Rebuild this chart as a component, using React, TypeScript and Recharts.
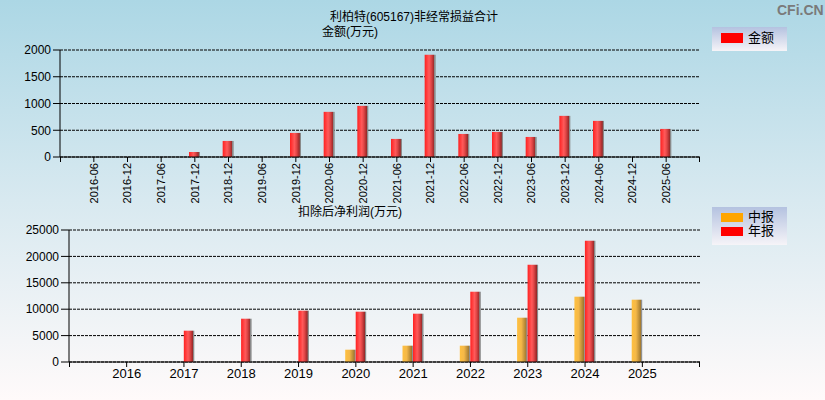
import React from "react";
import { Bar, BarChart, CartesianGrid, XAxis, YAxis } from "recharts";

const periods = [
  "2016-06", "2016-12", "2017-06", "2017-12", "2018-12", "2019-06",
  "2019-12", "2020-06", "2020-12", "2021-06", "2021-12", "2022-06",
  "2022-12", "2023-06", "2023-12", "2024-06", "2024-12", "2025-06",
];
const amounts = [null, null, null, 94, 300, null, 450, 844, 956, 338, 1912, 431, 469, 375, 769, 675, null, 525];
const amountTicks = [0, 500, 1000, 1500, 2000];

const years = ["2016", "2017", "2018", "2019", "2020", "2021", "2022", "2023", "2024", "2025"];
const interim = [null, null, null, null, 2330, 3090, 3090, 8390, 12370, 11800];
const annual = [null, 5930, 8200, 9720, 9530, 9150, 13310, 18430, 22970, null];
const profitTicks = [0, 5000, 10000, 15000, 20000, 25000];

const topData = periods.map((p, i) => ({ period: p, amount: amounts[i] }));
const bottomData = years.map((y, i) => ({ year: y, interim: interim[i], annual: annual[i] }));

const FONT = '"Liberation Sans", Arial, "Noto Sans CJK SC", sans-serif';

const RotTick = (props: any) => {
  const { x, y, payload } = props;
  return (
    <text
      x={x}
      y={y}
      transform={`rotate(-90 ${x} ${y})`}
      textAnchor="end"
      dy="0.35em"
      fontSize={11}
      fontFamily={FONT}
      fill="#000"
    >
      {payload.value}
    </text>
  );
};

const Grads = () => (
  <defs>
    <linearGradient id="redBar" x1="0" y1="0" x2="1" y2="0">
      <stop offset="0" stopColor="#ff2020" />
      <stop offset="0.4" stopColor="#ff5a5a" />
      <stop offset="0.6" stopColor="#e04545" />
      <stop offset="0.86" stopColor="#982828" />
      <stop offset="0.88" stopColor="#8a8a8a" />
      <stop offset="1" stopColor="#8a8a8a" />
    </linearGradient>
    <linearGradient id="orangeBar" x1="0" y1="0" x2="1" y2="0">
      <stop offset="0" stopColor="#ffc040" />
      <stop offset="0.4" stopColor="#f4b848" />
      <stop offset="0.88" stopColor="#a07830" />
      <stop offset="0.9" stopColor="#909090" />
      <stop offset="1" stopColor="#909090" />
    </linearGradient>
  </defs>
);

const txt: React.CSSProperties = {
  position: "absolute",
  fontFamily: FONT,
  fontSize: 12,
  color: "#000",
  whiteSpace: "nowrap",
  lineHeight: "14px",
};

const legendBox: React.CSSProperties = {
  position: "absolute",
  left: 712,
  width: 75,
  background: "linear-gradient(to bottom, #b4c2e0, #f6f4f8)",
};

const tickDiv = (left: number, top: number): React.CSSProperties => ({
  position: "absolute",
  left,
  top,
  width: 1,
  height: 5,
  background: "#000",
});

export default function App() {
  return (
    <div
      style={{
        position: "absolute",
        left: 0,
        top: 0,
        width: 825,
        height: 400,
        overflow: "hidden",
        background: "linear-gradient(to bottom, #acd7e5 0%, #d8e9f0 50%, #fffafa 100%)",
      }}
    >
      <div style={{ ...txt, left: 330, top: 10 }}>利柏特(605167)非经常损益合计</div>
      <div style={{ ...txt, left: 322, top: 25 }}>金额(万元)</div>
      <div
        style={{
          position: "absolute",
          left: 777,
          top: 2,
          fontFamily: '"Liberation Sans", Arial, sans-serif',
          fontWeight: "bold",
          fontSize: 14,
          lineHeight: "16px",
          color: "#7a7a7a",
          whiteSpace: "nowrap",
        }}
      >
        CFi.CN
      </div>

      <div style={{ position: "absolute", left: 0, top: 0 }}>
        <BarChart width={825} height={205} data={topData} margin={{ top: 50, right: 125, bottom: 3, left: 0 }}>
          <Grads />
          <CartesianGrid vertical={false} stroke="#000" strokeDasharray="3 1" />
          <XAxis
            dataKey="period"
            interval={0}
            padding={{ left: 17, right: 17 }}
            height={45}
            tickSize={5}
            tickMargin={1}
            axisLine={{ stroke: "#000" }}
            tickLine={{ stroke: "#000" }}
            tick={<RotTick />}
          />
          <YAxis
            width={60}
            domain={[0, 2000]}
            ticks={amountTicks}
            interval={0}
            tickSize={7}
            tickMargin={2}
            axisLine={{ stroke: "#000" }}
            tickLine={{ stroke: "#000" }}
            tick={{ fill: "#000", fontSize: 12, fontFamily: FONT }}
          />
          <Bar dataKey="amount" fill="url(#redBar)" barSize={11} isAnimationActive={false} />
        </BarChart>
      </div>
      <div style={tickDiv(60, 157)} />
      <div style={tickDiv(699, 157)} />

      <div style={{ ...legendBox, top: 27, height: 24 }}>
        <div style={{ position: "absolute", left: 9, top: 6, width: 22, height: 10, background: "#ff0000" }} />
        <div style={{ ...txt, left: 36, top: 4, fontSize: 13 }}>金额</div>
      </div>

      <div style={{ ...txt, left: 298, top: 205 }}>扣除后净利润(万元)</div>

      <div style={{ position: "absolute", left: 0, top: 200 }}>
        <BarChart
          width={825}
          height={200}
          data={bottomData}
          margin={{ top: 30, right: 125, bottom: 8, left: 0 }}
          barGap={0}
        >
          <Grads />
          <CartesianGrid vertical={false} stroke="#000" strokeDasharray="3 1" />
          <XAxis
            dataKey="year"
            interval={0}
            padding={{ left: 29, right: 29 }}
            height={30}
            tickSize={5}
            tickMargin={2}
            axisLine={{ stroke: "#000" }}
            tickLine={{ stroke: "#000" }}
            tick={{ fill: "#000", fontSize: 13, fontFamily: FONT }}
          />
          <YAxis
            width={69}
            domain={[0, 25000]}
            ticks={profitTicks}
            interval={0}
            tickSize={8}
            tickMargin={2}
            axisLine={{ stroke: "#000" }}
            tickLine={{ stroke: "#000" }}
            tick={{ fill: "#000", fontSize: 12, fontFamily: FONT }}
          />
          <Bar dataKey="interim" fill="url(#orangeBar)" barSize={10.5} isAnimationActive={false} />
          <Bar dataKey="annual" fill="url(#redBar)" barSize={10.5} isAnimationActive={false} />
        </BarChart>
      </div>
      <div style={tickDiv(69, 362)} />
      <div style={tickDiv(699, 362)} />

      <div style={{ ...legendBox, top: 207, height: 38 }}>
        <div style={{ position: "absolute", left: 9, top: 6, width: 22, height: 9, background: "#ffa500" }} />
        <div style={{ ...txt, left: 36, top: 3, fontSize: 13 }}>中报</div>
        <div style={{ position: "absolute", left: 9, top: 20, width: 22, height: 9, background: "#ff0000" }} />
        <div style={{ ...txt, left: 36, top: 17, fontSize: 13 }}>年报</div>
      </div>
    </div>
  );
}
